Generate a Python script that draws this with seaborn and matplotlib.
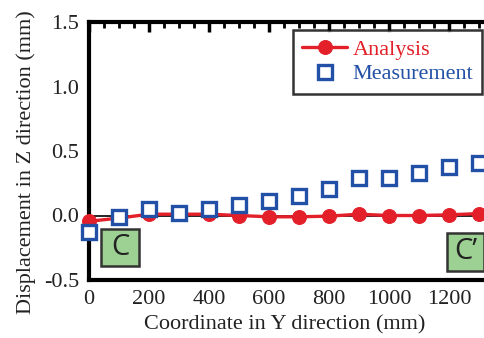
import matplotlib
matplotlib.use("Agg")
import matplotlib.pyplot as plt
import seaborn as sns
import pandas as pd
from matplotlib.patches import Rectangle
from matplotlib.ticker import MultipleLocator, FixedLocator

x_pos = [0, 100, 200, 300, 400, 500, 600, 700, 800, 900, 1000, 1100, 1200, 1300]
analysis = [-0.045, -0.02, 0.01, 0.01, 0.01, 0.0, -0.01, -0.01, -0.005, 0.01, 0.0, 0.0, 0.005, 0.015]
measurement = [-0.125, -0.01, 0.05, 0.02, 0.05, 0.085, 0.115, 0.155, 0.205, 0.29, 0.29, 0.33, 0.375, 0.41]
x_ticks = [0, 200, 400, 600, 800, 1000, 1200, 1400]
x_tick_labels = ["0", "200", "400", "600", "800", "1000", "1200", ""]

RED = "#e3202a"
BLUE = "#2150a6"

sns.set_style("white")
plt.rcParams["font.family"] = ["Liberation Serif", "DejaVu Serif"]

fig = plt.figure(figsize=(4.84, 3.38), dpi=100)
ax = fig.add_axes([89/484, 58/338, 420/484, 258/338])

df = pd.DataFrame({"x": x_pos, "Analysis": analysis, "Measurement": measurement})

ax.axhline(0, color="black", lw=1.2, zorder=1)
sns.lineplot(data=df, x="x", y="Analysis", ax=ax, color=RED, lw=2.4, marker="o",
             markersize=10, markeredgecolor=RED, label="Analysis", zorder=3,
             clip_on=False)
ax.plot(df["x"], df["Measurement"], ls="none", marker="s", markersize=10,
        markerfacecolor="white", markeredgecolor=BLUE, markeredgewidth=2.4,
        label="Measurement", zorder=4, clip_on=False)

ax.set_xlim(0, 1400)
ax.set_ylim(-0.5, 1.5)
ax.xaxis.set_major_locator(FixedLocator(x_ticks))
ax.set_xticklabels(x_tick_labels)
ax.xaxis.set_minor_locator(MultipleLocator(50))
ax.yaxis.set_major_locator(MultipleLocator(0.5))
ax.yaxis.set_minor_locator(MultipleLocator(0.1))
ax.yaxis.set_major_formatter(matplotlib.ticker.FormatStrFormatter("%.1f"))
ax.tick_params(which="both", direction="in", top=True, right=True, colors="black",
               labelsize=16, labelcolor="#222222")
ax.tick_params(which="major", length=7, width=2.5, pad=7)
ax.tick_params(which="minor", length=4, width=2)
for s in ax.spines.values():
    s.set_linewidth(3)
    s.set_color("black")

ax.set_xlabel("Coordinate in Y direction (mm)", fontsize=16, color="#222222")
ax.set_ylabel("Displacement in Z direction (mm)", fontsize=16, color="#222222")
ax.xaxis.set_label_coords((284.5 - 89) / 420, (280 - 315) / 258)
ax.yaxis.set_label_coords((36 - 89) / 420, (280 - 162.5) / 258)

for (x0, y0, w, h, t) in [(40, -0.395, 127, 0.287, "C"), (1193, -0.43, 124, 0.295, "C\u2019")]:
    ax.add_patch(Rectangle((x0, y0), w, h, facecolor="#9dd193", edgecolor="#333333",
                           lw=1.8, zorder=5, clip_on=False))
    ax.text(x0 + w/2, y0 + h/2, t, ha="center", va="center", fontsize=21,
            family=["Open Sans", "DejaVu Sans"], color="#222222", zorder=6)

leg = ax.legend(loc="upper left", bbox_to_anchor=((293 - 89)/420, (280 - 30)/258),
                frameon=True, fancybox=False, fontsize=16, handlelength=2.0,
                borderpad=0.42, labelspacing=0.18, handletextpad=0.25, borderaxespad=0)
leg.get_frame().set_edgecolor("black")
leg.get_frame().set_linewidth(1.8)
for txt, c in zip(leg.get_texts(), [RED, BLUE]):
    txt.set_color(c)

fig.savefig("out.png", dpi=100)
